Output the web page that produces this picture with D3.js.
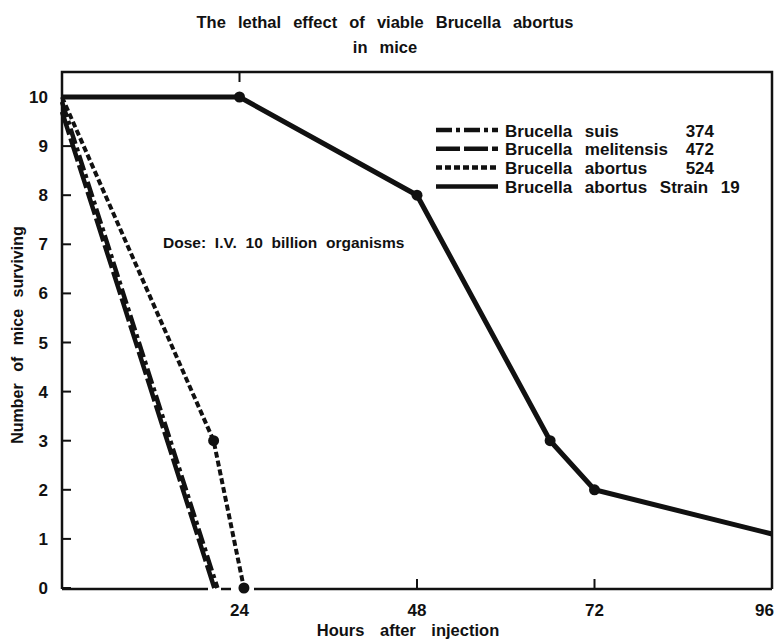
<!DOCTYPE html>
<html>
<head>
<meta charset="utf-8">
<script src="https://cdn.jsdelivr.net/npm/d3@7"></script>
<style>
  body { margin: 0; background: #fff; }
  svg text { font-family: "Liberation Sans", Arial, sans-serif; font-weight: bold; fill: #111; }
</style>
</head>
<body>
<div id="chart"></div>
<script>
// Chart size
const width = 775;
const height = 640;

// Data (hours after injection, mice surviving)
const suisHours = [0, 21];
const suisMice = [9.9, 0];
const melitensisHours = [0, 20.6];
const melitensisMice = [9.7, 0];
const abortusHours = [0, 20.5, 24.6];
const abortusMice = [10, 3, 0];
const strain19Hours = [0, 24, 48, 66, 72, 96];
const strain19Mice = [10, 10, 8, 3, 2, 1.1];

const yTicks = [0, 1, 2, 3, 4, 5, 6, 7, 8, 9, 10];
const xTickLabels = [24, 48, 72, 96];

const legendNames = ["Brucella suis", "Brucella melitensis", "Brucella abortus", "Brucella abortus Strain 19"];
const legendNumbers = ["374", "472", "524", ""];

const ink = "#111";

const svg = d3.select("#chart")
    .append("svg")
    .attr("width", width)
    .attr("height", height);

// Plot frame
const plotLeft = 62, plotRight = 772, plotTop = 72, plotBottom = 589;

const x = d3.scaleLinear().domain([0, 96]).range([plotLeft, plotRight]);
const y = d3.scaleLinear().domain([0, 10]).range([588, 97]);

// Title
svg.append("text")
    .attr("x", 385).attr("y", 28)
    .attr("text-anchor", "middle")
    .attr("font-size", 16.5)
    .attr("word-spacing", 7.5)
    .text("The lethal effect of viable Brucella abortus");
svg.append("text")
    .attr("x", 385).attr("y", 53)
    .attr("text-anchor", "middle")
    .attr("font-size", 16.5)
    .attr("word-spacing", 7.5)
    .text("in mice");

// Frame: left axis, top, right
svg.append("path")
    .attr("d", `M${plotLeft},${plotBottom} V${plotTop} H${plotRight} V${plotBottom}`)
    .attr("fill", "none")
    .attr("stroke", ink)
    .attr("stroke-width", 2.5);

// Bottom axis line, broken near 24 like the original
[[plotLeft, 208], [221, 231], [254, plotRight]].forEach(seg => {
    svg.append("line")
        .attr("x1", seg[0]).attr("x2", seg[1])
        .attr("y1", plotBottom).attr("y2", plotBottom)
        .attr("stroke", ink)
        .attr("stroke-width", 2.5);
});

// Y ticks (inward) and labels
svg.selectAll("line.ytick")
    .data(yTicks.filter(d => d < 10))
    .enter()
    .append("line")
    .attr("class", "ytick")
    .attr("x1", plotLeft).attr("x2", plotLeft + 9)
    .attr("y1", d => y(d)).attr("y2", d => y(d))
    .attr("stroke", ink)
    .attr("stroke-width", 2);

svg.selectAll("text.ylab")
    .data(yTicks)
    .enter()
    .append("text")
    .attr("class", "ylab")
    .attr("x", 48)
    .attr("y", d => y(d) + 6)
    .attr("text-anchor", "end")
    .attr("font-size", 17)
    .text(d => d);

// X ticks: one on top at 24, inward ticks at 48 and 72 on the bottom
svg.append("line")
    .attr("x1", x(24)).attr("x2", x(24))
    .attr("y1", plotTop).attr("y2", plotTop + 10)
    .attr("stroke", ink).attr("stroke-width", 2);
svg.selectAll("line.xtick")
    .data([48, 72])
    .enter()
    .append("line")
    .attr("class", "xtick")
    .attr("x1", d => x(d)).attr("x2", d => x(d))
    .attr("y1", plotBottom).attr("y2", plotBottom - 10)
    .attr("stroke", ink).attr("stroke-width", 2);

svg.selectAll("text.xlab")
    .data(xTickLabels)
    .enter()
    .append("text")
    .attr("class", "xlab")
    .attr("x", d => d === 96 ? plotRight + 2 : x(d))
    .attr("y", 616)
    .attr("text-anchor", d => d === 96 ? "end" : "middle")
    .attr("font-size", 17)
    .text(d => d);

// Axis titles
svg.append("text")
    .attr("x", 408).attr("y", 636)
    .attr("text-anchor", "middle")
    .attr("font-size", 16.5)
    .attr("word-spacing", 11)
    .text("Hours after injection");
svg.append("text")
    .attr("transform", "translate(23,335) rotate(-90)")
    .attr("text-anchor", "middle")
    .attr("font-size", 16)
    .attr("word-spacing", 7)
    .text("Number of mice surviving");

// Note
svg.append("text")
    .attr("x", 163).attr("y", 248)
    .attr("font-size", 15.5)
    .attr("word-spacing", 4.5)
    .text("Dose: I.V. 10 billion organisms");

// Series
const line = d3.line().x(d => x(d[0])).y(d => y(d[1]));
const series = [
    { hours: suisHours, mice: suisMice, dash: "16,4,4,4", width: 4.5 },
    { hours: melitensisHours, mice: melitensisMice, dash: "24,4", width: 4.5 },
    { hours: abortusHours, mice: abortusMice, dash: "6,3", width: 4 },
    { hours: strain19Hours, mice: strain19Mice, dash: null, width: 5 }
];

series.forEach(s => {
    const pts = s.hours.map((h, i) => [h, s.mice[i]]);
    svg.append("path")
        .attr("d", line(pts))
        .attr("fill", "none")
        .attr("stroke", ink)
        .attr("stroke-width", s.width)
        .attr("stroke-dasharray", s.dash);
});

// Point markers
const abortusDots = abortusHours.map((h, i) => [h, abortusMice[i]]).slice(1);
const strainDots = strain19Hours.map((h, i) => [h, strain19Mice[i]]).slice(1, 5);
svg.selectAll("circle.dot")
    .data(abortusDots.concat(strainDots))
    .enter()
    .append("circle")
    .attr("class", "dot")
    .attr("cx", d => x(d[0]))
    .attr("cy", d => y(d[1]))
    .attr("r", 5.5)
    .attr("fill", ink);

// Legend
const legend = svg.append("g").attr("transform", "translate(436,130)");
legendNames.forEach((name, i) => {
    const row = legend.append("g").attr("transform", `translate(0,${i * 18.8})`);
    row.append("line")
        .attr("x1", 0).attr("x2", 62)
        .attr("y1", 0).attr("y2", 0)
        .attr("stroke", ink)
        .attr("stroke-width", 4.5)
        .attr("stroke-dasharray", series[i].dash);
    row.append("text")
        .attr("x", 69).attr("y", 6.5)
        .attr("font-size", 17)
        .attr("word-spacing", 8)
        .text(name);
    row.append("text")
        .attr("x", 278).attr("y", 6.5)
        .attr("text-anchor", "end")
        .attr("font-size", 17)
        .text(legendNumbers[i]);
});
</script>
</body>
</html>
